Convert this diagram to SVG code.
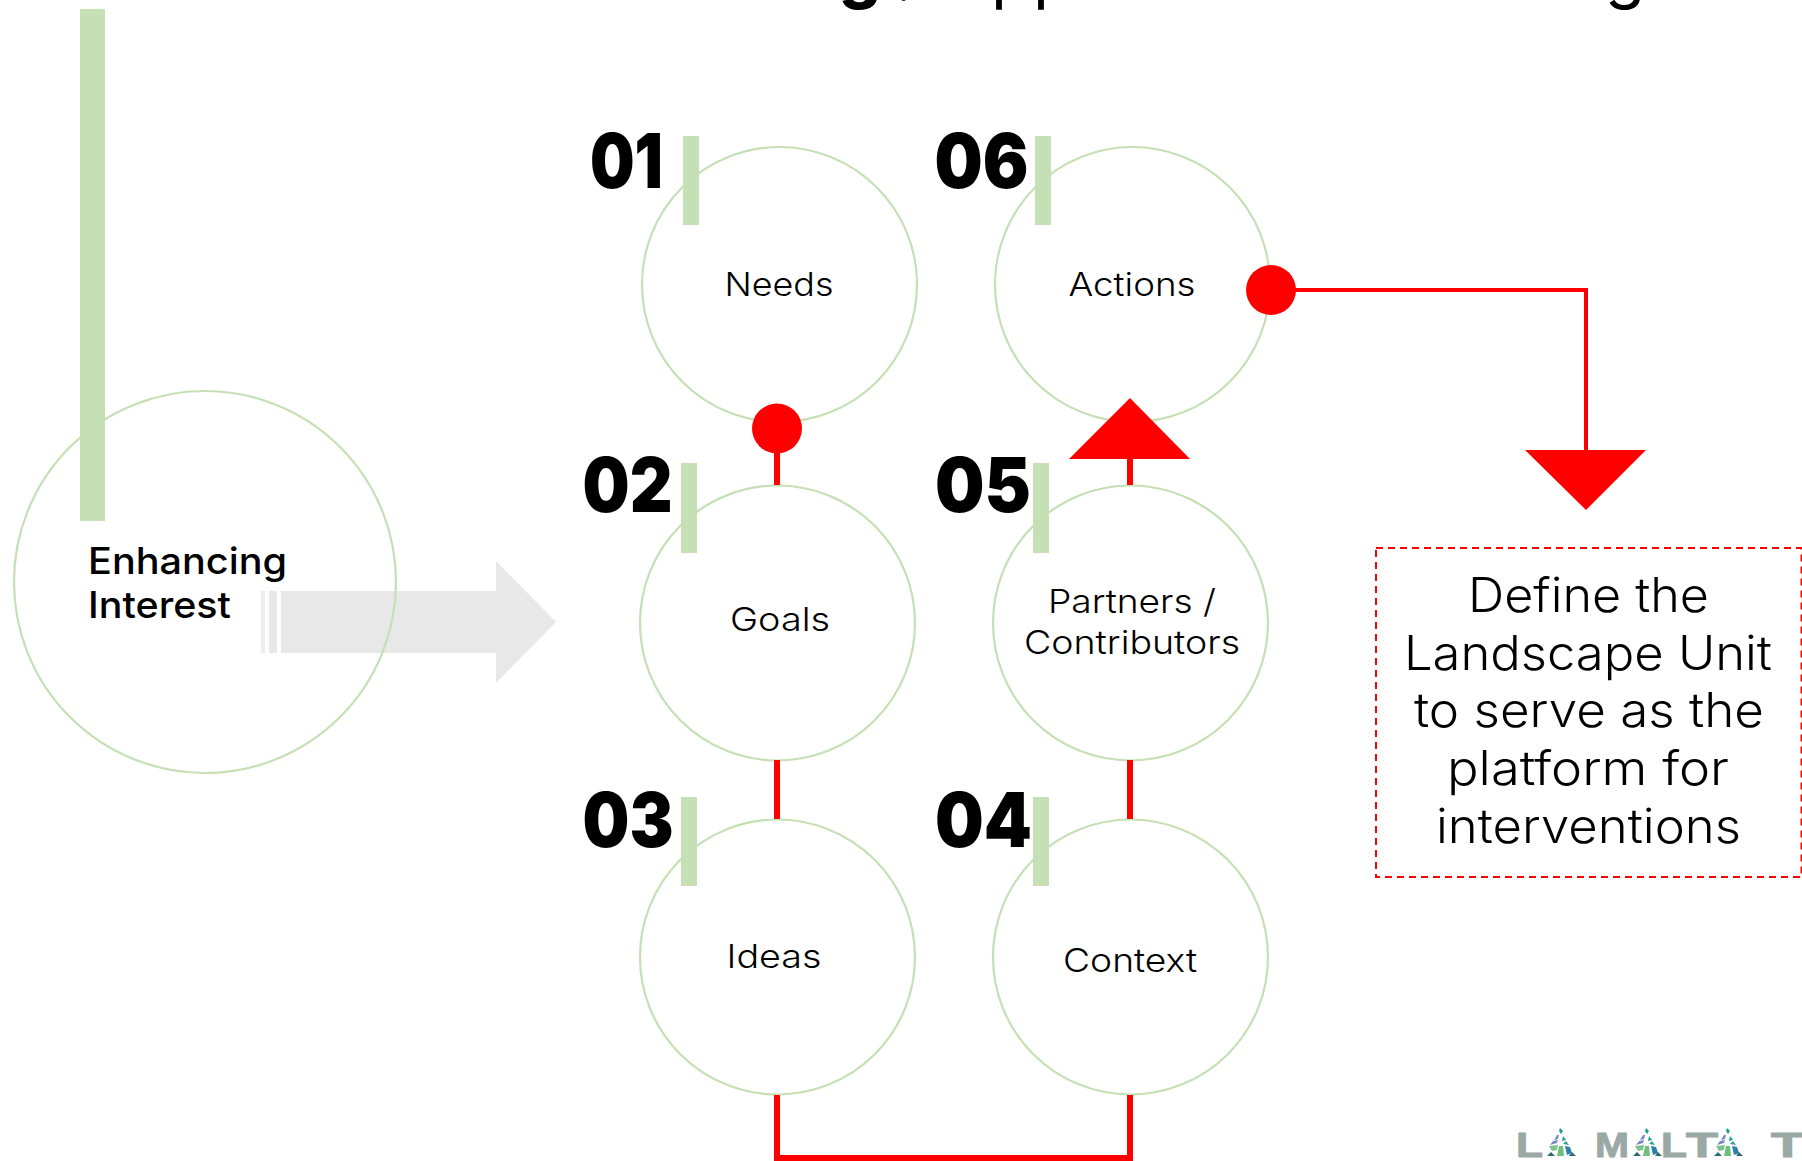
<svg xmlns="http://www.w3.org/2000/svg" width="1802" height="1161" viewBox="0 0 1802 1161">
<style>
text{font-family:Inter,"Liberation Sans",sans-serif;fill:#000}
.c{fill:none;stroke:#c5e0b4;stroke-width:2.2}
.b{fill:#c5e0b4}
.n{font-weight:900;font-size:76px}
.l{font-weight:300;font-size:33px}
.d{font-weight:300;font-size:48px}
.e{font-weight:500;font-size:37px}
.t{font-weight:400;font-size:66px}
.w{font-family:"Liberation Sans",sans-serif;font-weight:700;font-size:35px;fill:#9aa9a6;stroke:#9aa9a6;stroke-width:1}
.r{fill:#f00}
.cn{fill:none;stroke:#f00;stroke-width:6}
</style>
<defs>
<g id="tri">
<polygon points="14,0 17,3 15,6 13,3" fill="#1aa08f"/>
<polygon points="11,7 13,7 12,11 8,12" fill="#7c86c9"/>
<polygon points="7,13 12,12 11,15 4,17" fill="#7c86c9"/>
<polygon points="17,8 20,12 16,13" fill="#1aa08f"/>
<polygon points="20,13 23,17 17,16" fill="#2aa58a"/>
<polygon points="3,18 12,17 11,22 6,23" fill="#7cc48a"/>
<polygon points="13,18 17,18 18,28 11,28" fill="#6fbf7f"/>
<polygon points="19,18 24,19 26,25 21,27" fill="#2a80a8"/>
<polygon points="1,28 5,24 9,28" fill="#2d6b70"/>
<polygon points="26,24 30,28 23,28" fill="#2d6b70"/>
</g>
</defs>
<g id="title">
<text class="t" x="860" y="-4" text-anchor="middle" style="font-weight:800">g</text>
<text class="t" x="906" y="-8" text-anchor="middle" style="font-size:50px">,</text>
<text class="t" x="991" y="-4">p</text>
<text class="t" x="1033" y="-4">p</text>
<text class="t" x="1625" y="-4" text-anchor="middle">g</text>
</g>
<g id="arrow-big">
<polygon points="281,591 496,591 496,561 556,622 496,683 496,653 281,653" fill="#e8e8e8"/>
<rect x="261" y="591" width="4" height="62" fill="#eeeeee"/>
<rect x="269" y="591" width="8" height="62" fill="#e8e8e8"/>
</g>
<g id="enhancing">
<circle class="c" cx="205" cy="582" r="191"/>
<rect class="b" x="80" y="9" width="25" height="512"/>
<text class="e" x="88" y="574" textLength="199" lengthAdjust="spacingAndGlyphs">Enhancing</text>
<text class="e" x="88" y="618" textLength="143" lengthAdjust="spacingAndGlyphs">Interest</text>
</g>
<g id="node-01">
<circle class="c" cx="779.500" cy="284.500" r="137.500"/>
<rect class="b" x="683" y="136" width="16" height="89"/>
<text class="n" x="590" y="188" textLength="73" lengthAdjust="spacingAndGlyphs">01</text>
<text class="l" x="724.500" y="296" textLength="109" lengthAdjust="spacingAndGlyphs">Needs</text>
</g>
<g id="node-02">
<circle class="c" cx="777.500" cy="623" r="137.500"/>
<rect class="b" x="681" y="463" width="16" height="90"/>
<text class="n" x="582.500" y="512" textLength="90" lengthAdjust="spacingAndGlyphs">02</text>
<text class="l" x="730" y="631" textLength="100" lengthAdjust="spacingAndGlyphs">Goals</text>
</g>
<g id="node-03">
<circle class="c" cx="777.500" cy="957" r="137.500"/>
<rect class="b" x="681" y="797" width="16" height="89"/>
<text class="n" x="582.500" y="847" textLength="91" lengthAdjust="spacingAndGlyphs">03</text>
<text class="l" x="726.500" y="968" textLength="95" lengthAdjust="spacingAndGlyphs">Ideas</text>
</g>
<g id="node-04">
<circle class="c" cx="1130.500" cy="957" r="137.500"/>
<rect class="b" x="1033" y="797" width="16" height="89"/>
<text class="n" x="935" y="847" textLength="97" lengthAdjust="spacingAndGlyphs">04</text>
<text class="l" x="1063" y="972" textLength="134" lengthAdjust="spacingAndGlyphs">Context</text>
</g>
<g id="node-05">
<circle class="c" cx="1130.500" cy="623" r="137.500"/>
<rect class="b" x="1033" y="463" width="16" height="90"/>
<text class="n" x="935" y="512" textLength="96" lengthAdjust="spacingAndGlyphs">05</text>
<text class="l" x="1048" y="613" textLength="168" lengthAdjust="spacingAndGlyphs">Partners /</text>
<text class="l" x="1024" y="654" textLength="216" lengthAdjust="spacingAndGlyphs">Contributors</text>
</g>
<g id="node-06">
<circle class="c" cx="1132.500" cy="284.500" r="137.500"/>
<rect class="b" x="1035" y="136" width="16" height="89"/>
<text class="n" x="934.500" y="188" textLength="94" lengthAdjust="spacingAndGlyphs">06</text>
<text class="l" x="1068.500" y="296" textLength="127" lengthAdjust="spacingAndGlyphs">Actions</text>
</g>
<g id="connectors">
<path class="cn" d="M777 428V485"/>
<path class="cn" d="M777 760V819"/>
<path class="cn" d="M1130 760V819"/>
<path class="cn" d="M1130 459V485"/>
<path class="cn" d="M777 1095V1158H1130V1095"/>
<path class="cn" style="stroke-width:4" d="M1271 290H1586V450"/>
<polygon class="r" points="1069,459 1190,459 1130,398"/>
<polygon class="r" points="1525,450 1646,450 1586,510"/>
<circle class="r" cx="777" cy="428.500" r="25"/>
<circle class="r" cx="1271" cy="290" r="25"/>
</g>
<g id="definition">
<rect x="1376" y="548" width="425.500" height="329" fill="none" stroke="#f00" stroke-width="2" stroke-dasharray="7 5"/>
<text class="d" x="1468" y="612" textLength="241" lengthAdjust="spacingAndGlyphs">Define the</text>
<text class="d" x="1404" y="670" textLength="368" lengthAdjust="spacingAndGlyphs">Landscape Unit</text>
<text class="d" x="1414" y="727" textLength="350" lengthAdjust="spacingAndGlyphs">to serve as the</text>
<text class="d" x="1447" y="785" textLength="282" lengthAdjust="spacingAndGlyphs">platform for</text>
<text class="d" x="1436" y="843" textLength="305" lengthAdjust="spacingAndGlyphs">interventions</text>
</g>
<g id="logo">
<text class="w" x="1516" y="1157" textLength="27" lengthAdjust="spacingAndGlyphs">L</text>
<use href="#tri" x="1546" y="1128"/>
<text class="w" x="1595" y="1157" textLength="34" lengthAdjust="spacingAndGlyphs">M</text>
<use href="#tri" x="1632" y="1128"/>
<text class="w" x="1661" y="1157" textLength="26" lengthAdjust="spacingAndGlyphs">L</text>
<text class="w" x="1686" y="1157" textLength="32" lengthAdjust="spacingAndGlyphs">T</text>
<use href="#tri" x="1713" y="1128"/>
<text class="w" x="1771" y="1157" textLength="33" lengthAdjust="spacingAndGlyphs">T</text>
</g>
</svg>
